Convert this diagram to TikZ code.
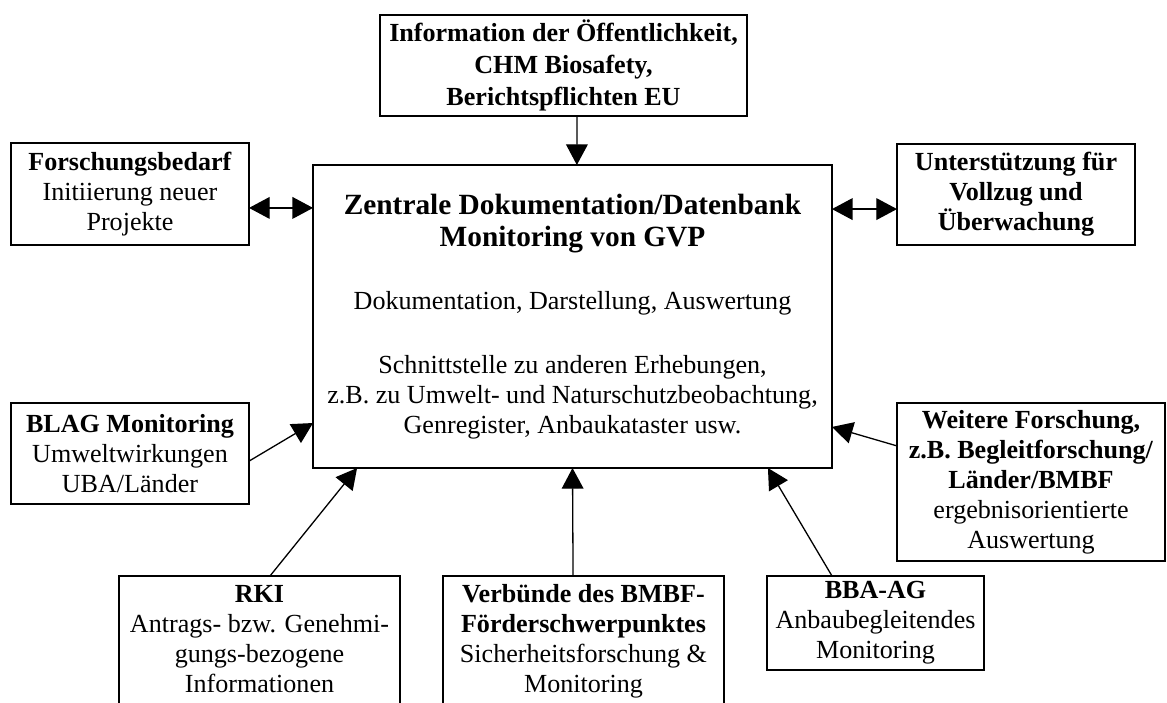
\documentclass[tikz,border=0pt]{standalone}
\usepackage{fontspec}
\setmainfont{Liberation Serif}
\usetikzlibrary{positioning,calc,arrows.meta}

\newcommand{\zdbfont}{\fontsize{13.5}{15}\selectfont\bfseries}
\tikzset{
  kasten/.style={draw, line width=0.8pt, rectangle, align=center, inner sep=0pt, outer sep=0pt,
    font=\fontsize{12}{13.8}\selectfont},
  pfeil/.style={line width=0.6pt, -{Triangle[length=9.5pt,width=10pt]}},
  dpfeil/.style={line width=0.6pt, {Triangle[length=9.5pt,width=10pt]}-{Triangle[length=9.5pt,width=10pt]}}
}

\begin{document}
\begin{tikzpicture}[x=0.46pt,y=-0.46pt]
			\clip (0,0) rectangle (1167,702);
			
			\node[kasten, minimum width=238.7pt, minimum height=139.4pt] (zdb) at (572.5,316.5)
				{{\zdbfont Zentrale Dokumentation/Datenbank}\\[1pt]
				 {\zdbfont Monitoring von GVP}\\[15.2pt]
				 Dokumentation, Darstellung, Auswertung\\[15.2pt]
				 Schnittstelle zu anderen Erhebungen,\\
				 z.B. zu Umwelt- und Naturschutzbeobachtung,\\
				 Genregister, Anbaukataster usw.};
			
			\node[kasten, minimum width=168.8pt, minimum height=46.5pt] (info) at (563.5,65.5)
				{\textbf{Information der Öffentlichkeit,}\\[1pt] \textbf{CHM Biosafety,}\\[1pt] \textbf{Berichtspflichten EU}};
			\node[kasten, minimum width=109.5pt, minimum height=46.9pt] (bedarf) at (130,194)
				{\textbf{Forschungsbedarf}\\ Initiierung neuer\\ Projekte};
			\node[kasten, minimum width=109.5pt, minimum height=46.5pt] (vollzug) at (1016,194.5)
				{\textbf{Unterstützung für}\\ \textbf{Vollzug und}\\ \textbf{Überwachung}};
			\node[kasten, minimum width=109.5pt, minimum height=46.5pt] (blag) at (130,453.5)
				{\textbf{BLAG Monitoring}\\ Umweltwirkungen\\ UBA/Länder};
			\node[kasten, minimum width=123.3pt, minimum height=72.7pt] (weitere) at (1031,482)
				{\textbf{Weitere Forschung,}\\ \textbf{z.B. Begleitforschung/}\\ \textbf{Länder/BMBF}\\ ergebnisorientierte\\ Auswertung};
			\node[kasten, minimum width=129.3pt, minimum height=75.4pt] (rki) at (259.5,658)
				{\textbf{RKI}\\ Antrags- bzw. Genehmi-\\ gungs-bezogene\\ Informationen\\ \strut};
			\node[kasten, minimum width=129.3pt, minimum height=75.4pt] (verbund) at (583.5,658)
				{\textbf{Verbünde des BMBF-}\\ \textbf{Förderschwerpunktes}\\ Sicherheitsforschung \&\\ Monitoring\\ \strut};
			\node[kasten, minimum width=99.8pt, minimum height=43.2pt] (bba) at (875.5,623)
				{\textbf{BBA-AG}\\ Anbaubegleitendes\\ Monitoring};
			
			\coordinate (bl) at ([yshift=-6.4pt]bedarf.east);
			\coordinate (vr) at ([yshift=-6.7pt]vollzug.west);
			
			\draw[pfeil] ([xshift=6.2pt]info.south) -- ([xshift=2pt]zdb.north);
			\draw[dpfeil] (bl) -- (bl -| zdb.west);
			\draw[dpfeil] (vr -| zdb.east) -- (vr);
			\draw[pfeil] ([yshift=-3.5pt]blag.east) -- ([yshift=-49pt]zdb.west);
			\draw[pfeil] ([yshift=16.6pt]weitere.west) -- ([yshift=-50.8pt]zdb.east);
			\draw[pfeil] ([xshift=4.8pt]rki.north) -- ([xshift=-99.1pt]zdb.south);
			\draw[pfeil] ([xshift=-4.8pt]verbund.north) -- (zdb.south);
			\draw[pfeil] ([xshift=-20pt]bba.north) -- ([xshift=89.9pt]zdb.south);
			
\end{tikzpicture}
\end{document}
